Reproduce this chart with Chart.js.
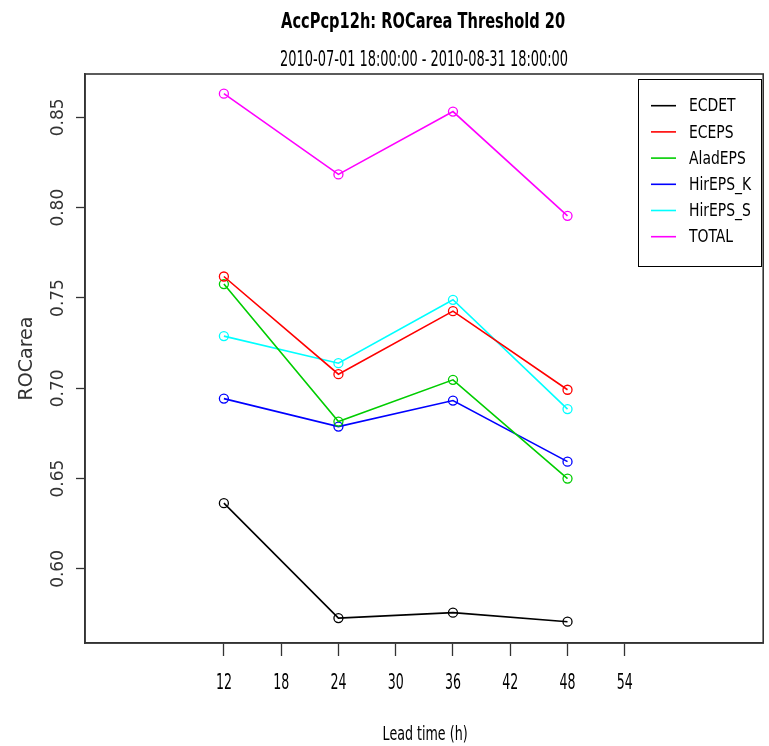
<!DOCTYPE html>
<html>
<head>
<meta charset="utf-8">
<title>AccPcp12h ROCarea</title>
<script src="https://cdn.jsdelivr.net/npm/chart.js@4.4.1/dist/chart.umd.min.js"></script>
<style>
  body { margin: 0; background: #fff; }
  canvas { display: block; }
</style>
</head>
<body>
<canvas id="rocChart" width="769" height="746"></canvas>
<script>
const leadTimes = [12, 24, 36, 48];

const ecdet   = [0.6364, 0.5728, 0.5758, 0.5708];
const eceps   = [0.7619, 0.7078, 0.7427, 0.6992];
const aladeps = [0.7577, 0.6816, 0.7047, 0.6500];
const hirepsK = [0.6943, 0.6788, 0.6932, 0.6594];
const hirepsS = [0.7289, 0.7139, 0.7490, 0.6885];
const total   = [0.8631, 0.8184, 0.8532, 0.7955];

const seriesNames = ['ECDET', 'ECEPS', 'AladEPS', 'HirEPS_K', 'HirEPS_S', 'TOTAL'];
const seriesValues = [ecdet, eceps, aladeps, hirepsK, hirepsS, total];

const xTicks = [12, 18, 24, 30, 36, 42, 48, 54];
const yTicks = [0.60, 0.65, 0.70, 0.75, 0.80, 0.85];

const titleText = 'AccPcp12h: ROCarea Threshold 20';
const subtitleText = '2010-07-01 18:00:00 - 2010-08-31 18:00:00';
const xTitleText = 'Lead time (h)';

// default R palette
const COLORS = ['#000000', '#ff0000', '#00cd00', '#0000ff', '#00ffff', '#ff00ff'];

const NARROW = '"DejaVu Sans Condensed", "Liberation Sans Narrow", sans-serif';

const datasets = seriesNames.map((name, i) => ({
    label: name,
    data: leadTimes.map((t, j) => ({ x: t, y: seriesValues[i][j] })),
    borderColor: COLORS[i],
    backgroundColor: 'transparent',
    pointBorderColor: COLORS[i],
    pointBackgroundColor: 'transparent',
    pointRadius: 4.5,
    pointBorderWidth: 1.3,
    borderWidth: 1.6,
    tension: 0
}));

// draw a string squeezed horizontally by factor s
function fillTextScaled(ctx, text, x, y, s) {
    ctx.save();
    ctx.translate(x, y);
    ctx.scale(s, 1);
    ctx.fillText(text, 0, 0);
    ctx.restore();
}

// squeeze a string horizontally to the given width
function fillTextSqueezed(ctx, text, x, y, width) {
    const natural = ctx.measureText(text).width;
    fillTextScaled(ctx, text, x, y, Math.min(1, width / natural));
}

// box, titles, x tick labels and legend in the R style
const framePlugin = {
    id: 'frame',
    afterDraw(chart) {
        const ctx = chart.ctx;
        const area = chart.chartArea;
        const xScale = chart.scales.x;
        ctx.save();

        ctx.strokeStyle = '#333';
        ctx.lineWidth = 1.6;
        ctx.strokeRect(area.left, area.top, area.right - area.left, area.bottom - area.top);

        const cx = (area.left + area.right) / 2;
        ctx.fillStyle = '#000';
        ctx.textAlign = 'center';
        ctx.textBaseline = 'alphabetic';
        ctx.font = 'bold 21px ' + NARROW;
        fillTextSqueezed(ctx, titleText, cx - 1, 28, 284);
        ctx.font = '21px ' + NARROW;
        fillTextSqueezed(ctx, subtitleText, cx, 66, 288);
        ctx.font = '19px ' + NARROW;
        fillTextSqueezed(ctx, xTitleText, cx + 1, 740, 85);

        ctx.font = '21px ' + NARROW;
        xTicks.forEach(v => {
            fillTextSqueezed(ctx, String(v), xScale.getPixelForValue(v), 689, 16);
        });

        // legend
        const box = { left: 638, top: 79, right: 761, bottom: 266 };
        ctx.lineWidth = 1;
        ctx.strokeStyle = '#000';
        ctx.strokeRect(box.left + 0.5, box.top + 0.5, box.right - box.left, box.bottom - box.top);
        ctx.font = '18px ' + NARROW;
        ctx.textAlign = 'left';
        ctx.textBaseline = 'middle';
        chart.data.datasets.forEach((ds, i) => {
            const y = 105.7 + i * 26.2;
            ctx.strokeStyle = ds.borderColor;
            ctx.lineWidth = 1.6;
            ctx.beginPath();
            ctx.moveTo(651, y);
            ctx.lineTo(676, y);
            ctx.stroke();
            ctx.fillStyle = '#000';
            fillTextScaled(ctx, ds.label, 689, y + 1, 0.86);
        });

        ctx.restore();
    }
};

new Chart(document.getElementById('rocChart').getContext('2d'), {
    type: 'line',
    data: { datasets: datasets },
    plugins: [framePlugin],
    options: {
        responsive: false,
        devicePixelRatio: 1,
        animation: false,
        layout: { padding: { top: 74, right: 5, bottom: 0, left: 0 } },
        plugins: {
            legend: { display: false },
            tooltip: { enabled: false }
        },
        scales: {
            x: {
                type: 'linear',
                min: -2.55,
                max: 68.5,
                afterBuildTicks: scale => { scale.ticks = xTicks.map(v => ({ value: v })); },
                afterFit: scale => { scale.height = 103; },
                grid: { drawOnChartArea: false, drawTicks: true, tickLength: 13, color: '#333', tickWidth: 1.3 },
                border: { display: true, color: '#333', width: 1.6 },
                ticks: { display: false },
                title: { display: false }
            },
            y: {
                type: 'linear',
                min: 0.559,
                max: 0.874,
                afterBuildTicks: scale => { scale.ticks = yTicks.map(v => ({ value: v })); },
                afterFit: scale => { scale.width = 85; },
                grid: { drawOnChartArea: false, drawTicks: true, tickLength: 9, color: '#333', tickWidth: 1.3 },
                border: { display: true, color: '#333', width: 1.6 },
                ticks: {
                    minRotation: 90,
                    maxRotation: 90,
                    crossAlign: 'center',
                    padding: -2,
                    color: '#333',
                    font: { family: '"DejaVu Sans", sans-serif', size: 17 },
                    callback: v => v.toFixed(2)
                },
                title: {
                    display: true,
                    text: 'ROCarea',
                    color: '#333',
                    font: { family: '"DejaVu Sans", sans-serif', size: 19 },
                    padding: { top: 16, bottom: 0 }
                }
            }
        }
    }
});
</script>
</body>
</html>
